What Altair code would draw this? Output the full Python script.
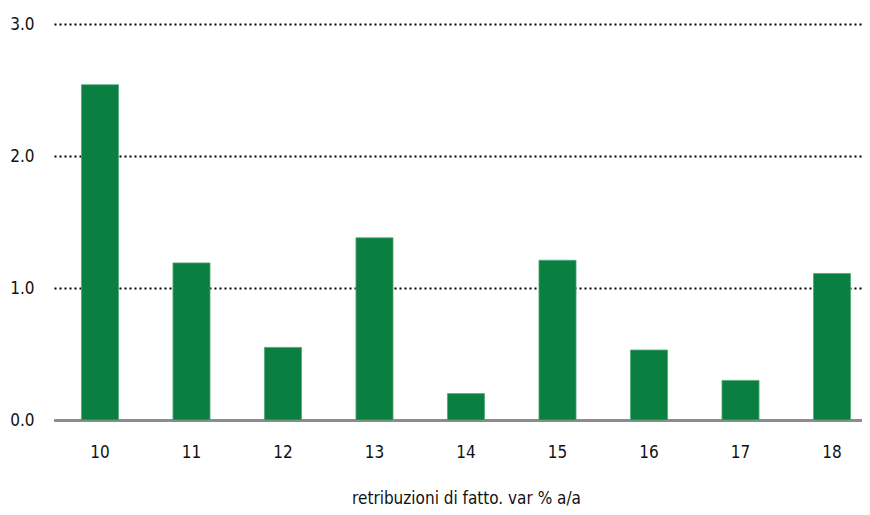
import altair as alt
import pandas as pd

years = ["10", "11", "12", "13", "14", "15", "16", "17", "18"]
values = [2.54, 1.19, 0.55, 1.38, 0.20, 1.21, 0.53, 0.30, 1.11]

df = pd.DataFrame({"anno": years, "valore": values})

FONT = "DejaVu Sans Condensed, DejaVu Sans, sans-serif"

chart = alt.Chart(df).mark_bar(color="#0a7f40", stroke="#4fa878", strokeWidth=0.8).encode(
    x=alt.X("anno:N", sort=years,
            scale=alt.Scale(paddingInner=0.595, paddingOuter=0.3, range=[0, 824]),
            axis=alt.Axis(title="retribuzioni di fatto. var % a/a", labelAngle=0,
                          labelFontSize=17, labelPadding=24, ticks=False,
                          domainColor="#8c8c8c", domainWidth=3,
                          titleFontSize=17, titleFontWeight="normal", titlePadding=30,
                          labelColor="#111", titleColor="#111",
                          labelFont=FONT, titleFont=FONT)),
    y=alt.Y("valore:Q", scale=alt.Scale(domain=[0, 3]),
            axis=alt.Axis(title=None, values=[0, 1, 2, 3], format=".1f",
                          labelFontSize=17, labelPadding=20, ticks=False, domain=False,
                          grid=True, gridColor="#000", gridDash=[2, 3], gridWidth=2,
                          labelColor="#111", labelFont=FONT)),
).properties(
    width=808, height=396,
    autosize=alt.AutoSizeParams(type="none"),
    padding={"left": 46, "top": 16, "right": 0, "bottom": 87},
).configure_view(stroke=None)

chart.save("out.html", embed_options={"renderer": "svg", "actions": False})
